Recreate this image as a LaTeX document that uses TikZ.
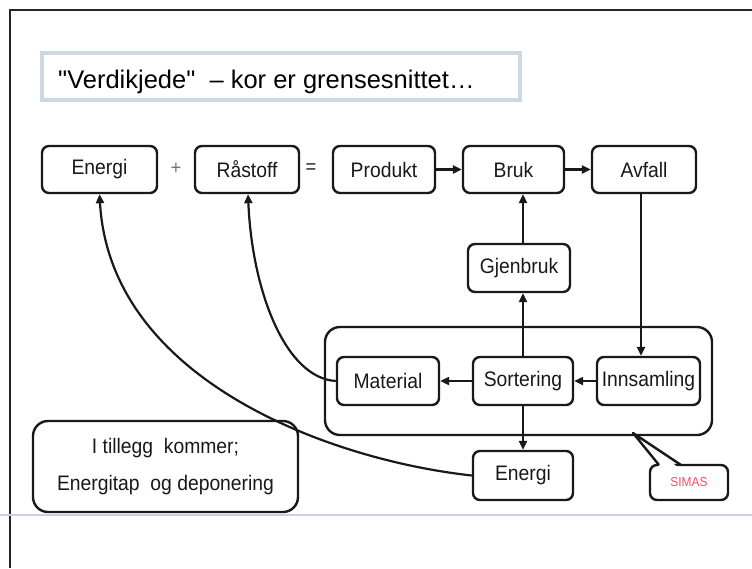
\documentclass[tikz,border=0pt]{standalone}
\usepackage{fontspec}
\setmainfont{Liberation Sans}[FakeStretch=0.92]
\newfontfamily\titlefont{Liberation Sans}
\usetikzlibrary{arrows.meta,shapes.misc}
\definecolor{boxline}{RGB}{25,25,25}
\definecolor{titleline}{RGB}{205,216,226}
\definecolor{simasred}{RGB}{240,80,100}
\definecolor{sepblue}{RGB}{200,204,240}
\tikzset{
  stepbox/.style={draw=boxline, line width=2.4pt, rounded corners=7pt, minimum height=47pt,
    inner sep=0pt, font=\fontsize{21}{24}\selectfont, text=black!90},
  conn/.style={draw=boxline, line width=2.2pt, -{Triangle[length=9pt,width=8pt]}},
  groupbox/.style={draw=boxline, line width=2.4pt, rounded corners=15pt},
}
\begin{document}
\begin{tikzpicture}[x=1pt,y=-1pt]
\useasboundingbox (0,0) rectangle (752,568);
% frame
\draw[line width=2pt, black!85] (10,568) -- (10,10) -- (752,10);
\draw[line width=1.6pt, sepblue] (0,515) -- (752,515);
% title
\node[draw=titleline, line width=3.5pt, minimum width=478pt, minimum height=47pt, inner sep=0pt] (titlebox) at (281,76.5) {};
\node[anchor=base west, inner sep=0pt, font=\titlefont\fontsize{25.5}{28}\selectfont] (title) at (58,88) {"Verdikjede"\ \ – kor er grensesnittet…};
% top row
\node[stepbox, minimum width=115pt] (energi) at (99.5,169.5) {Energi};
\node[font=\fontsize{20}{24}\selectfont, text=black!55] (plus) at (176,169) {+};
\node[stepbox, minimum width=104pt] (rastoff) at (247,169.5) {Råstoff};
\node[font=\fontsize{20}{24}\selectfont, text=black!85] (eq) at (311,169) {=};
\node[stepbox, minimum width=102pt] (produkt) at (384,169.5) {Produkt};
\node[stepbox, minimum width=101pt] (bruk) at (513.5,169.5) {Bruk};
\node[stepbox, minimum width=104pt] (avfall) at (644,169.5) {Avfall};
% middle
\node[stepbox, minimum width=102pt, minimum height=48pt] (gjenbruk) at (519,268) {Gjenbruk};
\node[groupbox, minimum width=387pt, minimum height=108pt] (group) at (518.5,381) {};
\node[stepbox, minimum width=102pt, minimum height=48pt] (material) at (388,381) {Material};
\node[stepbox, minimum width=100pt, minimum height=48pt] (sortering) at (523,381) {Sortering};
\node[stepbox, minimum width=103pt, minimum height=48pt] (innsamling) at (648.5,381) {Innsamling};
\node[stepbox, minimum width=100pt, minimum height=49pt] (energi2) at (523,475.5) {Energi};
% extra box
\node[groupbox, minimum width=265pt, minimum height=91pt, align=center,
  font=\fontsize{21}{37}\selectfont, text=black!90] (extra) at (165.5,466.5)
  {I tillegg\ \ kommer;\\Energitap\ \ og deponering};
% SIMAS callout
\node[draw=boxline, line width=2.4pt, rounded corners=7pt, minimum width=78pt, minimum height=35pt,
  inner sep=0pt, font=\fontsize{13}{15}\selectfont, text=simasred] (simas) at (689,482.5) {SIMAS};
\coordinate (tip) at (633,433);
\fill[white] (661,468) -- (tip) -- (679,468) -- cycle;
\draw[draw=boxline, line width=2.4pt, line join=round] (659,465) -- (tip) -- (681,465);
% straight connectors
\draw[conn] (produkt.east) -- (bruk.west);
\draw[conn] (bruk.east) -- (avfall.west);
\draw[conn] (gjenbruk.north -| sortering) -- (bruk.south -| sortering);
\draw[conn] (sortering.north) -- (sortering.north |- gjenbruk.south);
\draw[conn] (avfall.south -| 641,0) -- (innsamling.north -| 641,0);
\draw[conn] (innsamling.west) -- (sortering.east);
\draw[conn] (sortering.west) -- (material.east);
\draw[conn] (sortering.south) -- (energi2.north);
% curved connectors
\draw[conn] (material.west) .. controls (285,378) and (252,290) .. ([xshift=1pt]rastoff.south);
\draw[conn] (energi2.west) .. controls (330,460) and (110,380) .. (energi.south);
\end{tikzpicture}
\end{document}
